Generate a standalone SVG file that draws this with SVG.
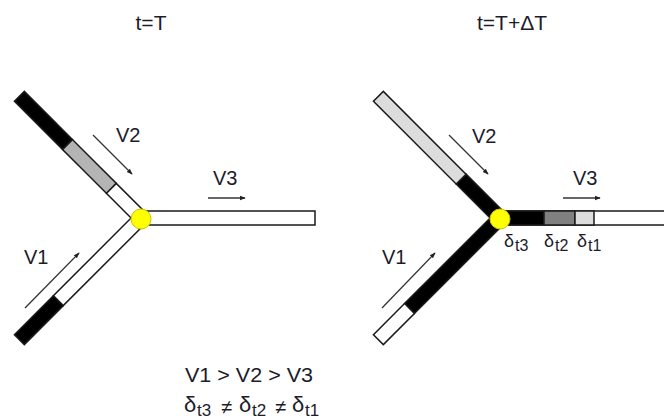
<svg xmlns="http://www.w3.org/2000/svg" width="664" height="420" viewBox="0 0 664 420">
<defs>
<style>
text{font-family:"Liberation Sans",Arial,sans-serif;fill:#1c1c2a}
.t{font-size:21px}
.lab{font-size:20px}
.d{font-size:18px}
.ds{font-size:16px}
.b{font-size:22px}
.bq{font-size:20px}
.sub{font-size:17px}
.tube{stroke:#1a1a1a;stroke-width:1.5}
.w{fill:#fff}
.k{fill:#000}
.g{fill:#b4b4b4}
.dg{fill:#808080}
.lg{fill:#dcdcdc}
.arr{stroke:#333;stroke-width:1.3;fill:none;marker-end:url(#ah)}
.node{fill:#ffff00;stroke:#c8c800;stroke-width:1}
</style>
<marker id="ah" viewBox="0 0 8 8" refX="7" refY="4" markerWidth="6" markerHeight="6" orient="auto" markerUnits="userSpaceOnUse">
<path d="M0,1 L8,4 L0,7 z" fill="#222"/>
</marker>
</defs>
<rect width="664" height="420" fill="#fff"/>

<text class="t" x="151" y="30" text-anchor="middle">t=T</text>
<text class="t" x="512" y="30" text-anchor="middle">t=T+ΔT</text>

<!-- LEFT: t=T -->
<g id="left-out">
<rect class="tube w" x="141" y="211" width="174" height="14"/>
</g>
<g id="left-upper" transform="translate(141,218) rotate(-135)">
<rect class="tube w" x="0" y="-7" width="42" height="14"/>
<rect class="tube g" x="42" y="-7" width="62" height="14"/>
<rect class="tube k" x="104" y="-7" width="68" height="14"/>
</g>
<g id="left-lower" transform="translate(141,218) rotate(135)">
<rect class="tube w" x="0" y="-7" width="117" height="14"/>
<rect class="tube k" x="117" y="-7" width="55" height="14"/>
</g>
<g id="left-junction"><circle class="node" cx="141" cy="219" r="10"/></g>

<!-- RIGHT: t=T+dT -->
<g id="right-out">
<rect class="tube w" x="500" y="211" width="180" height="14"/>
<rect class="tube k" x="500" y="211" width="44" height="14"/>
<rect class="tube dg" x="544" y="211" width="31" height="14"/>
<rect class="tube lg" x="575" y="211" width="19" height="14"/>
</g>
<g id="right-upper" transform="translate(500,218) rotate(-135)">
<rect class="tube k" x="0" y="-7" width="55" height="14"/>
<rect class="tube lg" x="55" y="-7" width="117" height="14"/>
</g>
<g id="right-lower" transform="translate(500,218) rotate(135)">
<rect class="tube k" x="0" y="-7" width="128" height="14"/>
<rect class="tube w" x="128" y="-7" width="44" height="14"/>
</g>
<g id="right-junction"><circle class="node" cx="500" cy="219" r="10"/></g>

<g id="connectors">
<line class="arr" x1="93" y1="135" x2="132" y2="174"/>
<line class="arr" x1="208" y1="198" x2="245" y2="198"/>
<line class="arr" x1="25" y1="308" x2="79" y2="253"/>
<line class="arr" x1="449" y1="135" x2="488" y2="174"/>
<line class="arr" x1="563" y1="198" x2="600" y2="198"/>
<line class="arr" x1="382" y1="308" x2="435" y2="253"/>
</g>

<g id="labels">
<text class="lab" x="116" y="142">V2</text>
<text class="lab" x="213" y="185">V3</text>
<text class="lab" x="24" y="264">V1</text>
<text class="lab" x="472" y="143">V2</text>
<text class="lab" x="573" y="185">V3</text>
<text class="lab" x="382" y="264">V1</text>

<text class="d" x="504" y="247">δ</text><text class="ds" x="515" y="251">t3</text>
<text class="d" x="544" y="247">δ</text><text class="ds" x="555" y="251">t2</text>
<text class="d" x="577" y="247">δ</text><text class="ds" x="588" y="251">t1</text>

<text class="bq" x="185" y="382" textLength="128" lengthAdjust="spacingAndGlyphs">V1 &gt; V2 &gt; V3</text>
<text class="b" x="184" y="412">δ</text><text class="sub" x="197" y="416">t3</text>
<text class="bq" x="221" y="414">≠</text>
<text class="b" x="239" y="412">δ</text><text class="sub" x="252" y="416">t2</text>
<text class="bq" x="275" y="414">≠</text>
<text class="b" x="292" y="412">δ</text><text class="sub" x="305" y="416">t1</text>
</g>
</svg>
